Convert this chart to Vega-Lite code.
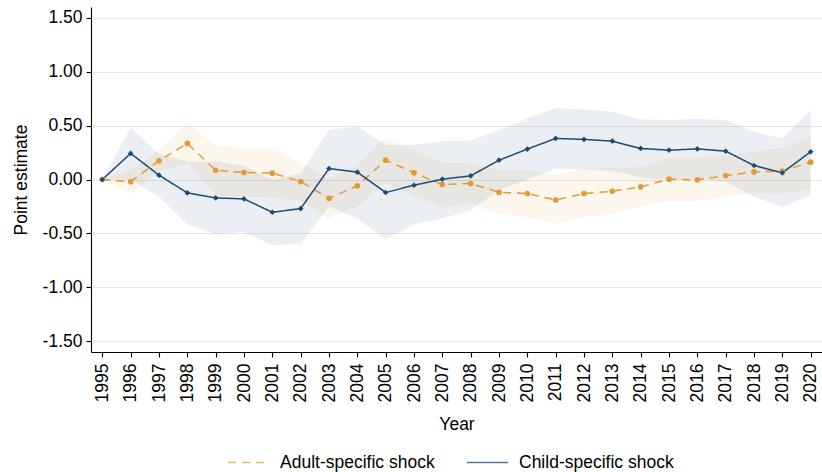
{
  "$schema": "https://vega.github.io/schema/vega-lite/v6.json",
  "autosize": {"type": "none"},
  "padding": {"left": 91, "top": 7, "right": 0, "bottom": 120},
  "width": 731,
  "height": 345,
  "background": "white",
  "config": {
    "view": {"stroke": null},
    "font": "Liberation Sans",
    "axis": {
      "domainColor": "#000000",
      "domainWidth": 1.1,
      "tickColor": "#000000",
      "tickWidth": 1.1,
      "tickSize": 5,
      "labelFont": "Liberation Sans",
      "labelFontSize": 17.5,
      "labelColor": "#000000",
      "titleFont": "Liberation Sans",
      "titleFontSize": 17.5,
      "titleFontWeight": "normal",
      "titleColor": "#000000"
    },
    "legend": {
      "labelFont": "Liberation Sans",
      "labelFontSize": 17.5,
      "labelColor": "#000000"
    }
  },
  "data": {
    "values": [
      {"year": 1995, "series": "Adult-specific shock", "est": 0.0, "lo": 0.0, "hi": 0.0},
      {"year": 1996, "series": "Adult-specific shock", "est": -0.02, "lo": -0.13, "hi": 0.09},
      {"year": 1997, "series": "Adult-specific shock", "est": 0.173, "lo": 0.08, "hi": 0.27},
      {"year": 1998, "series": "Adult-specific shock", "est": 0.335, "lo": 0.15, "hi": 0.52},
      {"year": 1999, "series": "Adult-specific shock", "est": 0.086, "lo": -0.147, "hi": 0.32},
      {"year": 2000, "series": "Adult-specific shock", "est": 0.065, "lo": -0.16, "hi": 0.29},
      {"year": 2001, "series": "Adult-specific shock", "est": 0.059, "lo": -0.17, "hi": 0.29},
      {"year": 2002, "series": "Adult-specific shock", "est": -0.019, "lo": -0.2, "hi": 0.16},
      {"year": 2003, "series": "Adult-specific shock", "est": -0.174, "lo": -0.36, "hi": 0.01},
      {"year": 2004, "series": "Adult-specific shock", "est": -0.059, "lo": -0.25, "hi": 0.13},
      {"year": 2005, "series": "Adult-specific shock", "est": 0.179, "lo": -0.03, "hi": 0.39},
      {"year": 2006, "series": "Adult-specific shock", "est": 0.062, "lo": -0.15, "hi": 0.27},
      {"year": 2007, "series": "Adult-specific shock", "est": -0.047, "lo": -0.26, "hi": 0.16},
      {"year": 2008, "series": "Adult-specific shock", "est": -0.037, "lo": -0.22, "hi": 0.15},
      {"year": 2009, "series": "Adult-specific shock", "est": -0.118, "lo": -0.32, "hi": 0.09},
      {"year": 2010, "series": "Adult-specific shock", "est": -0.13, "lo": -0.35, "hi": 0.09},
      {"year": 2011, "series": "Adult-specific shock", "est": -0.19, "lo": -0.41, "hi": 0.04},
      {"year": 2012, "series": "Adult-specific shock", "est": -0.13, "lo": -0.35, "hi": 0.1},
      {"year": 2013, "series": "Adult-specific shock", "est": -0.109, "lo": -0.32, "hi": 0.11},
      {"year": 2014, "series": "Adult-specific shock", "est": -0.068, "lo": -0.25, "hi": 0.115},
      {"year": 2015, "series": "Adult-specific shock", "est": 0.003, "lo": -0.2, "hi": 0.2},
      {"year": 2016, "series": "Adult-specific shock", "est": -0.003, "lo": -0.2, "hi": 0.2},
      {"year": 2017, "series": "Adult-specific shock", "est": 0.037, "lo": -0.16, "hi": 0.23},
      {"year": 2018, "series": "Adult-specific shock", "est": 0.071, "lo": -0.12, "hi": 0.26},
      {"year": 2019, "series": "Adult-specific shock", "est": 0.077, "lo": -0.13, "hi": 0.29},
      {"year": 2020, "series": "Adult-specific shock", "est": 0.161, "lo": -0.09, "hi": 0.41},
      {"year": 1995, "series": "Child-specific shock", "est": 0.0, "lo": 0.0, "hi": 0.0},
      {"year": 1996, "series": "Child-specific shock", "est": 0.242, "lo": 0.0, "hi": 0.48},
      {"year": 1997, "series": "Child-specific shock", "est": 0.04, "lo": -0.16, "hi": 0.24},
      {"year": 1998, "series": "Child-specific shock", "est": -0.124, "lo": -0.415, "hi": 0.167},
      {"year": 1999, "series": "Child-specific shock", "est": -0.171, "lo": -0.508, "hi": 0.166},
      {"year": 2000, "series": "Child-specific shock", "est": -0.18, "lo": -0.487, "hi": 0.127},
      {"year": 2001, "series": "Child-specific shock", "est": -0.304, "lo": -0.61, "hi": 0.0},
      {"year": 2002, "series": "Child-specific shock", "est": -0.27, "lo": -0.595, "hi": 0.055},
      {"year": 2003, "series": "Child-specific shock", "est": 0.102, "lo": -0.254, "hi": 0.458},
      {"year": 2004, "series": "Child-specific shock", "est": 0.068, "lo": -0.36, "hi": 0.495},
      {"year": 2005, "series": "Child-specific shock", "est": -0.121, "lo": -0.558, "hi": 0.319},
      {"year": 2006, "series": "Child-specific shock", "est": -0.053, "lo": -0.415, "hi": 0.319},
      {"year": 2007, "series": "Child-specific shock", "est": 0.003, "lo": -0.362, "hi": 0.356},
      {"year": 2008, "series": "Child-specific shock", "est": 0.034, "lo": -0.285, "hi": 0.36},
      {"year": 2009, "series": "Child-specific shock", "est": 0.179, "lo": -0.1, "hi": 0.458},
      {"year": 2010, "series": "Child-specific shock", "est": 0.282, "lo": 0.0, "hi": 0.567},
      {"year": 2011, "series": "Child-specific shock", "est": 0.381, "lo": 0.102, "hi": 0.66},
      {"year": 2012, "series": "Child-specific shock", "est": 0.372, "lo": 0.09, "hi": 0.65},
      {"year": 2013, "series": "Child-specific shock", "est": 0.356, "lo": 0.08, "hi": 0.628},
      {"year": 2014, "series": "Child-specific shock", "est": 0.288, "lo": 0.02, "hi": 0.56},
      {"year": 2015, "series": "Child-specific shock", "est": 0.272, "lo": -0.01, "hi": 0.551},
      {"year": 2016, "series": "Child-specific shock", "est": 0.284, "lo": 0.005, "hi": 0.563},
      {"year": 2017, "series": "Child-specific shock", "est": 0.263, "lo": -0.022, "hi": 0.551},
      {"year": 2018, "series": "Child-specific shock", "est": 0.13, "lo": -0.16, "hi": 0.442},
      {"year": 2019, "series": "Child-specific shock", "est": 0.062, "lo": -0.254, "hi": 0.381},
      {"year": 2020, "series": "Child-specific shock", "est": 0.257, "lo": -0.146, "hi": 0.644}
    ]
  },
  "encoding": {
    "x": {
      "field": "year",
      "type": "quantitative",
      "scale": {"domain": [1994.6, 2020.4], "nice": false, "zero": false},
      "axis": {
        "title": "Year",
        "values": [1995, 1996, 1997, 1998, 1999, 2000, 2001, 2002, 2003, 2004, 2005, 2006, 2007, 2008, 2009, 2010, 2011, 2012, 2013, 2014, 2015, 2016, 2017, 2018, 2019, 2020],
        "format": "d",
        "labelAngle": -90,
        "labelAlign": "right",
        "labelBaseline": "middle",
        "labelPadding": 6,
        "labelOverlap": false,
        "labelFlush": false,
        "grid": false,
        "titlePadding": 14
      }
    }
  },
  "layer": [
    {
      "mark": {"type": "area", "opacity": 0.09, "interpolate": "linear"},
      "encoding": {
        "y": {
          "field": "lo",
          "type": "quantitative",
          "scale": {"domain": [-1.6, 1.6], "nice": false, "zero": false},
          "axis": {
            "title": "Point estimate",
            "values": [-1.5, -1.0, -0.5, 0, 0.5, 1.0, 1.5],
            "format": ".2f",
            "labelExpr": "replace(datum.label, '\u2212', '-')",
            "grid": true,
            "gridColor": "#e6e6e6",
            "gridWidth": 1,
            "labelPadding": 4,
            "titlePadding": 12
          }
        },
        "y2": {"field": "hi"},
        "fill": {
          "field": "series",
          "type": "nominal",
          "scale": {"range": ["#e39a35", "#1c4a75"]},
          "legend": null
        }
      }
    },
    {
      "mark": {"type": "rule", "color": "#a3a3a3", "strokeWidth": 1.6},
      "encoding": {"y": {"datum": 0}}
    },
    {
      "mark": {"type": "line", "strokeWidth": 1.5},
      "encoding": {
        "y": {"field": "est", "type": "quantitative"},
        "stroke": {
          "field": "series",
          "type": "nominal",
          "scale": {"domain": ["Adult-specific shock", "Child-specific shock"], "range": ["#e39a35", "#1c4a75"]},
          "legend": {
            "title": null,
            "orient": "none",
            "legendX": 136,
            "legendY": 434,
            "direction": "horizontal",
            "symbolType": "stroke",
            "symbolSize": 1700,
            "symbolStrokeWidth": 1.3,
            "symbolOpacity": 0.75,
            "labelOffset": 10,
            "columnPadding": 29
          }
        },
        "strokeDash": {
          "field": "series",
          "type": "nominal",
          "scale": {"domain": ["Adult-specific shock", "Child-specific shock"], "range": [[8, 6], [1, 0]]},
          "legend": {
            "title": null,
            "orient": "none",
            "legendX": 136,
            "legendY": 434,
            "direction": "horizontal",
            "symbolType": "stroke",
            "symbolSize": 1700,
            "symbolStrokeWidth": 1.3,
            "symbolOpacity": 0.75,
            "labelOffset": 10,
            "columnPadding": 29
          }
        }
      }
    },
    {
      "mark": {"type": "point", "filled": true, "opacity": 1, "size": 32},
      "encoding": {
        "y": {"field": "est", "type": "quantitative"},
        "fill": {"field": "series", "type": "nominal", "legend": null},
        "shape": {
          "field": "series",
          "type": "nominal",
          "scale": {"range": ["circle", "diamond"]},
          "legend": null
        }
      }
    }
  ]
}
